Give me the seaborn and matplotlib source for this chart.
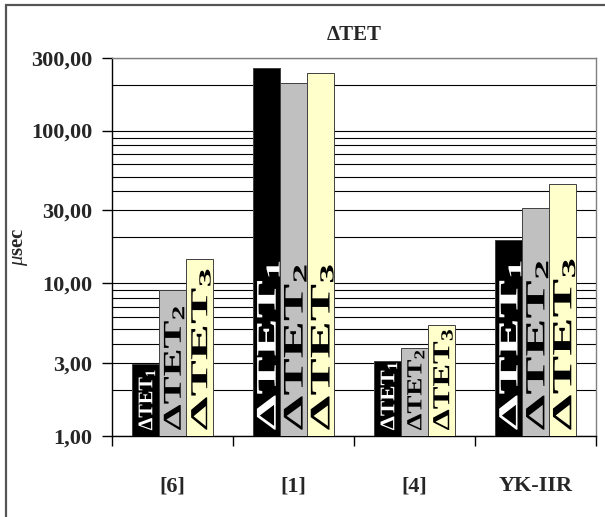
import numpy as np
import pandas as pd
import matplotlib
matplotlib.use("Agg")
import matplotlib.pyplot as plt
import seaborn as sns
from matplotlib.patheffects import AbstractPathEffect
from matplotlib.transforms import Affine2D, offset_copy
from matplotlib.ticker import FixedLocator, LogLocator, NullFormatter
from matplotlib.patches import Rectangle

# ---- data -------------------------------------------------------------
sources = ["[6]", "[1]", "[4]", "YK-IIR"]
series = ["ΔTET$_{1}$", "ΔTET$_{2}$", "ΔTET$_{3}$"]
tet1 = [2.95, 256.0, 3.1, 19.1]
tet2 = [9.0, 204.0, 3.75, 31.0]
tet3 = [14.4, 239.0, 5.3, 45.0]
y_ticks = [1, 3, 10, 30, 100, 300]
title = "ΔTET"
ylabel = r"$\mathit{\mu}$sec"

# ---- style ------------------------------------------------------------
colors = ["#000000", "#C0C0C0", "#FFFFCC"]
text_colors = ["white", "black", "black"]
# in-bar caption font size (pt) and drawn length (px), per source x series
label_sizes = [[15, 18.5, 17.5], [20.5, 20.5, 20.5], [15, 15.5, 17.5], [20, 20, 20]]
label_lengths = [[62, 127, 165], [173, 169, 169], [70, 82, 103], [173, 173, 175]]

sns.set_theme(style="white")
plt.rcParams["font.family"] = ["Liberation Serif", "DejaVu Serif"]
plt.rcParams["mathtext.fontset"] = "custom"
plt.rcParams["mathtext.rm"] = "Liberation Serif:bold"
plt.rcParams["mathtext.it"] = "Liberation Serif:italic"
plt.rcParams["mathtext.bf"] = "Liberation Serif:bold"
plt.rcParams["mathtext.default"] = "regular"


class Stretch(AbstractPathEffect):
    """Stretch glyphs along the text direction."""

    def __init__(self, factor):
        super().__init__()
        self.factor = factor

    def draw_path(self, renderer, gc, tpath, affine, rgbFace=None):
        renderer.draw_path(gc, tpath, Affine2D().scale(self.factor, 1.0) + affine, rgbFace)


df = pd.DataFrame({
    "source": sources * 3,
    "series": np.repeat(series, len(sources)),
    "value": tet1 + tet2 + tet3,
})

W, H = 605, 517
fig = plt.figure(figsize=(W / 100, H / 100), dpi=100)
ax = fig.add_axes([112 / W, 1 - 436 / H, (596 - 112) / W, (436 - 57.7) / H])

sns.barplot(data=df, x="source", y="value", hue="series", order=sources,
            hue_order=series, palette=colors, saturation=1, width=0.667,
            gap=0, edgecolor="#404040", linewidth=0.7, legend=False,
            ax=ax, zorder=3)
ax.set_yscale("log")
ax.set_ylim(1, 300)
ax.set_xlim(-0.5, len(sources) - 0.5)

# y axis: labelled major ticks, gridlines at every 1..9 x 10^k
ax.yaxis.set_major_locator(FixedLocator(y_ticks))
ax.set_yticks(y_ticks, labels=[f"{v:.2f}".replace(".", ",") for v in y_ticks])
ax.yaxis.set_minor_locator(LogLocator(base=10, subs=np.arange(1, 10), numticks=30))
ax.yaxis.set_minor_formatter(NullFormatter())
ax.tick_params(axis="y", which="major", length=7, width=1, color="black",
               direction="out", pad=7, labelsize=16, left=True)
ax.tick_params(axis="y", which="minor", length=0)
for lbl in ax.get_yticklabels():
    lbl.set_fontweight("bold")
ax.grid(which="both", axis="y", color="black", linewidth=0.8)
ax.set_axisbelow(True)

# x axis: tick marks between categories, labels centred under groups
ax.set_xticks(range(len(sources)), labels=sources)
ax.set_xticks(np.arange(-0.5, len(sources), 1), minor=True)
ax.tick_params(axis="x", which="major", length=0, pad=29, labelsize=16)
ax.tick_params(axis="x", which="minor", length=7, width=1, color="black",
               direction="out", bottom=True)
for lbl in ax.get_xticklabels():
    lbl.set_fontweight("bold")
ax.set_xlabel("")

ax.set_ylabel(ylabel, fontsize=15, fontweight="bold")
ax.yaxis.set_label_coords(-0.17, 0.5)
ax.set_title(title, fontsize=15, fontweight="bold", pad=13)

for side in ("left", "bottom"):
    ax.spines[side].set_color("black")
    ax.spines[side].set_linewidth(1)
for side in ("top", "right"):
    ax.spines[side].set_color("#808080")
    ax.spines[side].set_linewidth(1)

# chart frame
fig.patches.append(Rectangle((6 / W, -0.1), 1.2, 1 - 5 / H + 0.1,
                             transform=fig.transFigure, fill=False,
                             edgecolor="#555555", linewidth=1.6))

# captions written up each bar
captions = []
for j, cont in enumerate(ax.containers):
    for bar in cont:
        cx = bar.get_x() + bar.get_width() / 2
        i = int(round(cx))
        fs = label_sizes[i][j]
        tr = offset_copy(ax.transData, fig=fig, x=0.33 * fs, y=4, units="points")
        t = ax.text(cx, 1.0, series[j], transform=tr, rotation=90,
                    rotation_mode="anchor", ha="left", va="baseline",
                    fontsize=fs, fontweight="bold", color=text_colors[j],
                    zorder=5, clip_on=True)
        captions.append((t, label_lengths[i][j]))

fig.canvas.draw()
for t, length in captions:
    natural = t.get_window_extent().height
    t.set_path_effects([Stretch(length / natural)])

fig.savefig("out.png", dpi=100)
